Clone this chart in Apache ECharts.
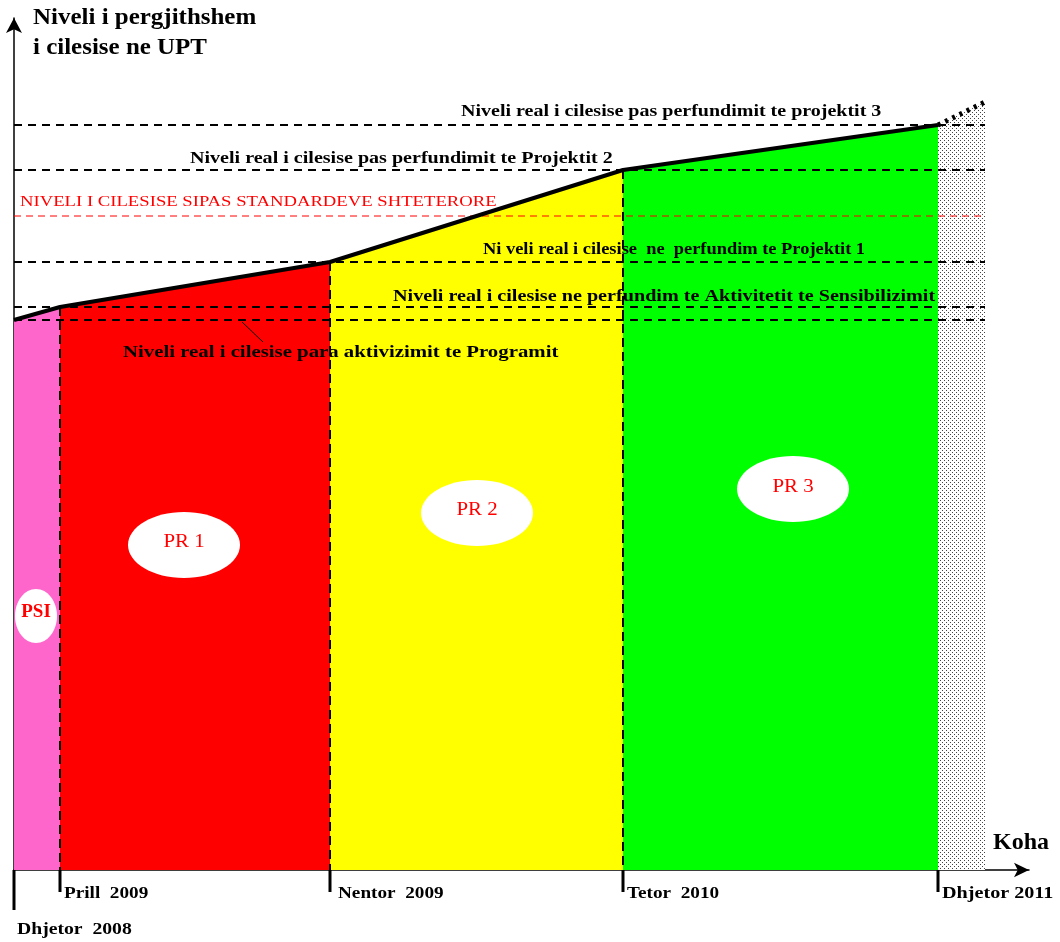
<!DOCTYPE html>
<html>
<head>
<meta charset="utf-8">
<script src="https://cdn.jsdelivr.net/npm/echarts@6/dist/echarts.min.js"></script>
<style>
html,body{margin:0;padding:0;background:#fff;}
#chart{width:1060px;height:942px;}
</style>
</head>
<body>
<div id="chart"></div>
<script>
// ---- schematic data ----
const timeLabels = ['Dhjetor  2008', 'Prill  2009', 'Nentor  2009', 'Tetor  2010', 'Dhjetor 2011'];
const timePos = [0, 46, 316, 609, 924];          // schematic position on the time axis
const qualityLevels = [550, 563, 608, 700, 745];  // real quality level at each time point
const standardLevel = 654;                         // level required by state standards
const projectionEnd = [971, 768];                  // dotted projection after project 3
const stageNames = ['PSI', 'PR 1', 'PR 2', 'PR 3'];
const levelLabels = [
  'Niveli real i cilesise para aktivizimit te Programit',
  'Niveli real i cilesise ne perfundim te Aktivitetit te Sensibilizimit',
  'Ni veli real i cilesise  ne  perfundim te Projektit 1',
  'Niveli real i cilesise pas perfundimit te Projektit 2',
  'Niveli real i cilesise pas perfundimit te projektit 3'
];
const standardLabel = 'NIVELI I CILESISE SIPAS STANDARDEVE SHTETERORE';
const yTitle = ['Niveli i pergjithshem', 'i cilesise ne UPT'];
const xTitle = 'Koha';

// ---- styles ----
const stageColors = ['#FF66CC', '#FF0000', '#FFFF00', '#00FF00'];
const SERIF = '"Liberation Serif", "DejaVu Serif", serif';

// stipple pattern
const pat = document.createElement('canvas');
pat.width = 4; pat.height = 4;
(function(){
  const c = pat.getContext('2d');
  c.fillStyle = '#ffffff'; c.fillRect(0,0,4,4);
  c.fillStyle = '#444444'; c.fillRect(0,0,1,1); c.fillRect(2,2,1,1);
})();

const chart = echarts.init(document.getElementById('chart'), null, {renderer: 'canvas'});

const stageData = stageNames.map((n, i) => [timePos[i], timePos[i+1], qualityLevels[i], qualityLevels[i+1], i]);
const lineEndX = projectionEnd[0];
const hLines = qualityLevels.map(v => [v, 0]).concat([[standardLevel, 1]]);
const labelScale = [1.23, 1.2, 1.2, 1.2, 1.26];
const labelDx = [3, 4, 8, 4, 4];

function txt(x, y, text, font, fill, sx, extra) {
  return Object.assign({type: 'text', x: x, y: y, z: 10, scaleX: sx || 1,
    style: {text: text, font: font, fill: fill || '#000', textAlign: 'left', textVerticalAlign: 'middle'}}, extra || {});
}

option = {
  animation: false,
  backgroundColor: '#fff',
  grid: {left: 14, right: 31, top: 18, bottom: 72},
  xAxis: {
    type: 'value', min: 0, max: 1015,
    axisLine: {show: true, onZero: false, symbol: ['none', 'arrow'], symbolSize: [11, 15], lineStyle: {color: '#000', width: 1.5}},
    axisTick: {show: false}, axisLabel: {show: false}, splitLine: {show: false}
  },
  yAxis: {
    type: 'value', min: 0, max: 852,
    axisLine: {show: true, onZero: false, symbol: ['none', 'arrow'], symbolSize: [12, 15], lineStyle: {color: '#000', width: 1.5}},
    axisTick: {show: false}, axisLabel: {show: false}, splitLine: {show: false}
  },
  series: [
    { // stage fills
      type: 'custom', z: 1, data: stageData,
      renderItem: function (params, api) {
        const x0 = api.value(0), x1 = api.value(1), y0 = api.value(2), y1 = api.value(3);
        return {
          type: 'polygon',
          shape: {points: [api.coord([x0, 0]), api.coord([x0, y0]), api.coord([x1, y1]), api.coord([x1, 0])]},
          style: {fill: stageColors[api.value(4)]}
        };
      }
    },
    { // stippled projection area
      type: 'custom', z: 1, data: [[timePos[4], qualityLevels[4], projectionEnd[0], projectionEnd[1]]],
      renderItem: function (params, api) {
        const x0 = api.value(0), y0 = api.value(1), x1 = api.value(2), y1 = api.value(3);
        return {
          type: 'polygon',
          shape: {points: [api.coord([x0, 0]), api.coord([x0, y0]), api.coord([x1, y1]), api.coord([x1, 0])]},
          style: {fill: {image: pat, repeat: 'repeat'}}
        };
      }
    },
    { // horizontal dashed level lines
      type: 'custom', z: 3, data: hLines,
      renderItem: function (params, api) {
        const y = api.value(0), red = api.value(1) === 1;
        const a = api.coord([0, y]), b = api.coord([lineEndX, y]);
        return {
          type: 'line',
          shape: {x1: a[0], y1: a[1], x2: b[0], y2: b[1]},
          style: red ? {stroke: '#FF0000', lineWidth: 1, lineDash: [7, 5]} : {stroke: '#000', lineWidth: 2, lineDash: [8, 6]}
        };
      }
    },
    { // vertical dashed stage boundaries
      type: 'custom', z: 3, data: [1, 2, 3].map(i => [timePos[i], qualityLevels[i]]),
      renderItem: function (params, api) {
        const a = api.coord([api.value(0), api.value(1)]), b = api.coord([api.value(0), 0]);
        return {
          type: 'line',
          shape: {x1: a[0], y1: a[1], x2: b[0], y2: b[1]},
          style: {stroke: '#000', lineWidth: 2, lineDash: [9, 5]}
        };
      }
    },
    { // main quality line
      type: 'line', z: 5, symbol: 'none',
      data: timePos.map((x, i) => [x, qualityLevels[i]]),
      lineStyle: {color: '#000', width: 4}
    },
    { // projection
      type: 'line', z: 5, symbol: 'none',
      data: [[timePos[4], qualityLevels[4]], projectionEnd],
      lineStyle: {color: '#000', width: 5, type: [3, 5]}
    },
    { // time ticks + labels
      type: 'custom', z: 6, data: timePos.map((x, i) => [x, i]),
      renderItem: function (params, api) {
        const i = api.value(1);
        const p = api.coord([api.value(0), 0]);
        const long = i === 0;
        const len = long ? 40 : 22;
        return {
          type: 'group',
          children: [
            {type: 'line', shape: {x1: p[0], y1: p[1], x2: p[0], y2: p[1] + len}, style: {stroke: '#000', lineWidth: 3}},
            {type: 'text', x: p[0] + labelDx[i], y: long ? p[1] + 60 : p[1] + 24, scaleX: labelScale[i],
             style: {text: timeLabels[i], font: 'bold 16px ' + SERIF, fill: '#000', textAlign: 'left', textVerticalAlign: 'middle'}}
          ]
        };
      }
    }
  ],
  graphic: [
    txt(33, 18, yTitle[0], 'bold 24px ' + SERIF, '#000', 1.04),
    txt(33, 48, yTitle[1], 'bold 24px ' + SERIF, '#000', 1.04),
    txt(993, 843, xTitle, 'bold 24px ' + SERIF, '#000', 1.0),
    txt(461, 112, levelLabels[4], 'bold 16px ' + SERIF, '#000', 1.25),
    txt(190, 159, levelLabels[3], 'bold 16px ' + SERIF, '#000', 1.254),
    txt(20, 202, standardLabel, '15px ' + SERIF, '#FF0000', 1.245),
    txt(483, 250, levelLabels[2], 'bold 16px ' + SERIF, '#000', 1.15),
    txt(393, 297, levelLabels[1], 'bold 16px ' + SERIF, '#000', 1.26),
    txt(123, 353, levelLabels[0], 'bold 16px ' + SERIF, '#000', 1.30),
    {type: 'line', z: 10, shape: {x1: 242, y1: 322, x2: 263, y2: 342}, style: {stroke: '#000', lineWidth: 1}},
    {type: 'ellipse', z: 10, shape: {cx: 36, cy: 616, rx: 21, ry: 27}, style: {fill: '#fff'}},
    {type: 'text', x: 36, y: 612, z: 11, style: {text: stageNames[0], font: 'bold 19px ' + SERIF, fill: '#FF0000', textAlign: 'center', textVerticalAlign: 'middle'}},
    {type: 'ellipse', z: 10, shape: {cx: 184, cy: 545, rx: 56, ry: 33}, style: {fill: '#fff'}},
    {type: 'text', x: 184, y: 542, z: 11, scaleX: 1.1, style: {text: stageNames[1], font: '19px ' + SERIF, fill: '#FF0000', textAlign: 'center', textVerticalAlign: 'middle'}},
    {type: 'ellipse', z: 10, shape: {cx: 477, cy: 513, rx: 56, ry: 33}, style: {fill: '#fff'}},
    {type: 'text', x: 477, y: 510, z: 11, scaleX: 1.1, style: {text: stageNames[2], font: '19px ' + SERIF, fill: '#FF0000', textAlign: 'center', textVerticalAlign: 'middle'}},
    {type: 'ellipse', z: 10, shape: {cx: 793, cy: 489, rx: 56, ry: 33}, style: {fill: '#fff'}},
    {type: 'text', x: 793, y: 487, z: 11, scaleX: 1.1, style: {text: stageNames[3], font: '19px ' + SERIF, fill: '#FF0000', textAlign: 'center', textVerticalAlign: 'middle'}}
  ]
};
chart.setOption(option);
</script>
</body>
</html>
